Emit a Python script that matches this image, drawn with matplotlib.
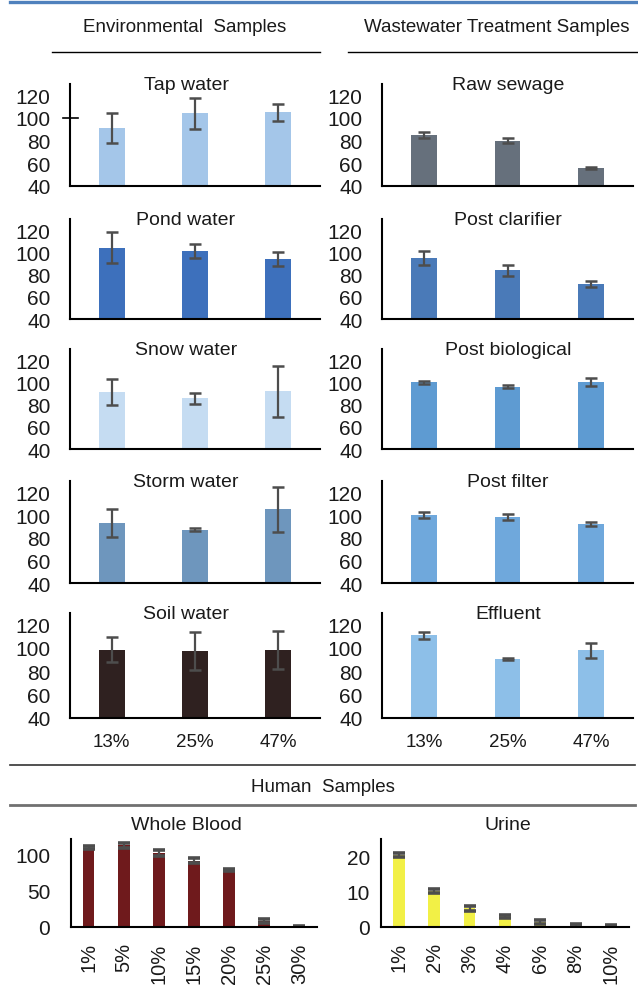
import matplotlib.pyplot as plt
from matplotlib.lines import Line2D

plt.rcParams['font.family'] = ['Liberation Sans', 'DejaVu Sans']

W, H = 638, 987

# spike levels shared by the environmental and wastewater panels
pct_top = ['13%', '25%', '47%']

env_names = ['Tap water', 'Pond water', 'Snow water', 'Storm water', 'Soil water']
env_means = [[91, 104, 105], [104, 101, 94], [91, 85.5, 92], [93, 87, 105], [98.5, 97.5, 98.5]]
env_errs = [[13, 14, 7.5], [14, 6.5, 6.3], [11.8, 4.7, 23], [12, 1.5, 20], [10.7, 16, 16.5]]
env_colors = ['#a4c6e9', '#3d70bc', '#c5dcf2', '#6e96bd', '#2f2120']

ww_names = ['Raw sewage', 'Post clarifier', 'Post biological', 'Post filter', 'Effluent']
ww_means = [[85, 80, 56], [95, 84, 71.5], [100, 96, 100], [100, 98.5, 92], [111, 90.5, 98]]
ww_errs = [[2.3, 2, 1], [6.4, 5, 2.4], [1.5, 1.5, 3.7], [3, 2.5, 1.5], [3, 1, 6.3]]
ww_colors = ['#66707c', '#4a7ab8', '#5e9bd2', '#6fa8dc', '#8dbfe8']

blood_pct = ['1%', '5%', '10%', '15%', '20%', '25%', '30%']
blood_means = [110, 113, 103, 92, 79, 8, 0]
blood_errs = [2, 3, 4, 3, 2, 3, 1]

urine_pct = ['1%', '2%', '3%', '4%', '6%', '8%', '10%']
urine_means = [20.5, 10.2, 5.3, 3, 1.4, 0.4, 0.2]
urine_errs = [0.5, 0.5, 0.8, 0.5, 0.5, 0.4, 0.3]

fig = plt.figure(figsize=(W / 100, H / 100), dpi=100)
fig.patch.set_facecolor('white')


def px_axes(x0, y0, x1, y1):
    return fig.add_axes([x0 / W, 1 - y1 / H, (x1 - x0) / W, (y1 - y0) / H])


def hline(x0, x1, y, color, lw):
    fig.add_artist(Line2D([x0 / W, x1 / W], [1 - y / H, 1 - y / H],
                          transform=fig.transFigure, color=color, lw=lw))


def ftext(x, y, s, size=14, **kw):
    fig.text(x / W, 1 - y / H, s, fontsize=size, color='#1a1a1a', **kw)


def style(ax, ypad):
    for s in ['top', 'right']:
        ax.spines[s].set_visible(False)
    for s in ['left', 'bottom']:
        ax.spines[s].set_linewidth(1.5)
        ax.spines[s].set_color('black')
    ax.tick_params(axis='both', length=0, labelsize=15, colors='#1a1a1a')
    ax.tick_params(axis='y', pad=ypad)
    ax.set_facecolor('none')


# header area
hline(10, 638, 3, '#4f81bd', 2.4)
ftext(185, 27, 'Environmental  Samples', size=13.5, ha='center', va='center')
ftext(364, 27, 'Wastewater Treatment Samples', size=13.5, ha='left', va='center')
hline(52, 320, 53, 'black', 1.0)
hline(348, 638, 53, 'black', 1.0)

rows = [(85, 187), (220, 320), (350, 450), (482, 584), (614, 719)]
columns = [
    (70, 320, 186, env_names, env_means, env_errs, env_colors),
    (382, 633, 508, ww_names, ww_means, ww_errs, ww_colors),
]

for x0, x1, tx, names, means, errs, colors in columns:
    for i, (y0, y1) in enumerate(rows):
        ax = px_axes(x0, y0, x1, y1)
        ax.bar(range(3), means[i], width=0.31, color=colors[i])
        ax.errorbar(range(3), means[i], yerr=errs[i], fmt='none', ecolor='#4d4d4d',
                    elinewidth=1.6, capsize=4, capthick=1.8)
        ax.set_xlim(-0.5, 2.5)
        ax.set_ylim(40, 130)
        ax.set_yticks([40, 60, 80, 100, 120])
        style(ax, 14)
        if i == len(rows) - 1:
            ax.set_xticks(range(3))
            ax.set_xticklabels(pct_top, fontsize=13.5)
            ax.tick_params(axis='x', pad=11)
        else:
            ax.set_xticks([])
        ftext(tx, y0 + 5, names[i], ha='center', va='baseline')
        if names[i] == 'Tap water':
            ax.plot([-0.584, -0.404], [100, 100], color='black', lw=1.2, clip_on=False)

# human samples
hline(10, 635, 766, '#333333', 1.2)
ftext(323, 788, 'Human  Samples', size=13.5, ha='center', va='center')
hline(10, 635, 806, '#707070', 2.0)

bottom = [
    (71, 317, 186, 'Whole Blood', blood_pct, blood_means, blood_errs, '#6f1a1c',
     (0, 122), [0, 50, 100], 15),
    (381, 629, 508, 'Urine', urine_pct, urine_means, urine_errs, '#f2f046',
     (0, 25), [0, 10, 20], 8),
]
for x0, x1, tx, title, cats, vals, errs, color, ylim, yt, ypad in bottom:
    ax = px_axes(x0, 840, x1, 928)
    xs = range(len(cats))
    ax.bar(xs, vals, width=0.33, color=color)
    ax.errorbar(xs, vals, yerr=errs, fmt='none', ecolor='#4d4d4d',
                elinewidth=1.6, capsize=4.3, capthick=2.6)
    ax.set_xlim(-0.5, len(cats) - 0.5)
    ax.set_ylim(*ylim)
    ax.set_yticks(yt)
    style(ax, ypad)
    ax.set_xticks(list(xs))
    ax.set_xticklabels(cats, rotation=90, fontsize=14.5)
    ax.tick_params(axis='x', pad=11)
    ftext(tx, 830, title, ha='center', va='baseline')

fig.savefig('out.png', dpi=100, facecolor='white')
